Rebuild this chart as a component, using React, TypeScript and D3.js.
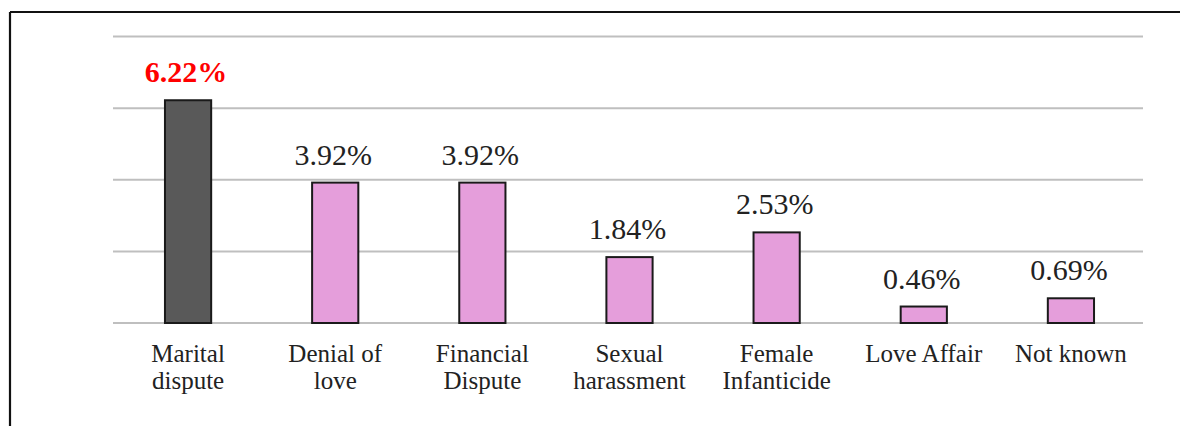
import React from "react";
import * as d3 from "d3";

const categories = [
  "Marital dispute",
  "Denial of love",
  "Financial Dispute",
  "Sexual harassment",
  "Female Infanticide",
  "Love Affair",
  "Not known",
];
const categoryLines = [
  ["Marital", "dispute"],
  ["Denial of", "love"],
  ["Financial", "Dispute"],
  ["Sexual", "harassment"],
  ["Female", "Infanticide"],
  ["Love Affair"],
  ["Not known"],
];
const values = [6.22, 3.92, 3.92, 1.84, 2.53, 0.46, 0.69];
const valueLabels = ["6.22%", "3.92%", "3.92%", "1.84%", "2.53%", "0.46%", "0.69%"];
const yTicks = [0, 2, 4, 6, 8];
const highlightIndex = 0;

export default function App() {
  const W = 1182;
  const H = 426;
  const x = d3.scaleBand<string>().domain(categories).range([114.5, 1144.5]).paddingInner(0.686).paddingOuter(0.343);
  const y = d3.scaleLinear().domain([0, 8]).range([323, 36.5]);
  const font = "'Liberation Serif', 'Times New Roman', serif";

  return (
    <svg width={W} height={H} style={{ position: "absolute", left: 0, top: 0, background: "#fff" }}>
      <rect x={0} y={0} width={W} height={H} fill="#fff" />
      {/* frame */}
      <line x1={10} x2={1180} y1={12} y2={12} stroke="#111" strokeWidth={2.2} />
      <line x1={10} x2={10} y1={12} y2={H} stroke="#111" strokeWidth={2.2} />
      {/* gridlines */}
      {yTicks.map((t) => (
        <line key={t} x1={113} x2={1143} y1={y(t)} y2={y(t)} stroke="#bfbfbf" strokeWidth={2} />
      ))}
      {/* bars */}
      {categories.map((c, i) => {
        const bx = x(c) as number;
        const bw = x.bandwidth();
        const top = y(values[i]);
        return (
          <rect
            key={c}
            x={bx}
            y={top}
            width={bw}
            height={y(0) - top}
            fill={i === highlightIndex ? "#595959" : "#e59edb"}
            stroke="#1a1a1a"
            strokeWidth={2}
          />
        );
      })}
      {/* value labels */}
      {categories.map((c, i) => {
        const cx = (x(c) as number) + x.bandwidth() / 2;
        const hl = i === highlightIndex;
        return (
          <text
            key={c}
            x={cx - 2}
            y={y(values[i]) - 18}
            textAnchor="middle"
            fontFamily={font}
            fontSize={30}
            fontWeight={hl ? "bold" : "normal"}
            fill={hl ? "#ff0000" : "#222"}
          >
            {valueLabels[i]}
          </text>
        );
      })}
      {/* category labels */}
      {categories.map((c, i) => {
        const cx = (x(c) as number) + x.bandwidth() / 2;
        return (
          <text key={c} textAnchor="middle" fontFamily={font} fontSize={25} fill="#222">
            {categoryLines[i].map((ln, j) => (
              <tspan key={j} x={cx} y={362 + j * 27}>
                {ln}
              </tspan>
            ))}
          </text>
        );
      })}
    </svg>
  );
}
